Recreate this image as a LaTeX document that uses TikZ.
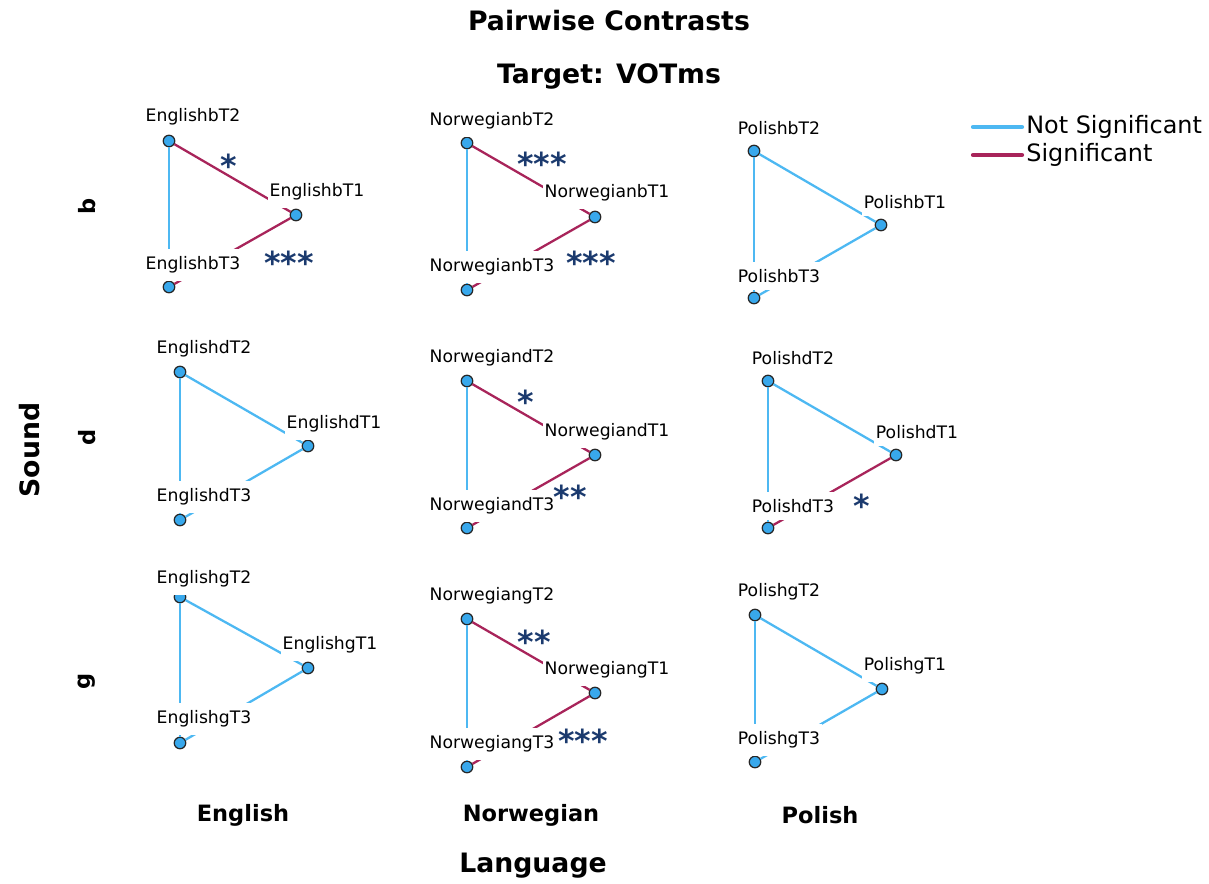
\documentclass[tikz,border=0pt]{standalone}
\usepackage{fontspec}
\setmainfont{DejaVu Sans}
\definecolor{nsblue}{HTML}{4DB8F2}
\definecolor{sigred}{HTML}{A8245A}
\definecolor{ptfill}{HTML}{38A8EC}
\definecolor{starnavy}{HTML}{1B3A6E}
\tikzset{
	pt/.style={circle,draw=black!85,fill=ptfill,line width=0.7pt,inner sep=0pt,minimum size=0.23cm},
	ptlabel/.style={fill=white,inner xsep=1pt,inner ysep=4.2pt,font=\fontsize{9.8}{11}\selectfont},
	ns/.style={draw=nsblue,line width=1.3pt},
	sig/.style={draw=sigred,line width=1.3pt},
	stars/.style={text=starnavy,inner sep=0pt,font=\bfseries\fontsize{18}{18}\selectfont},
	heading/.style={font=\bfseries\fontsize{15.2}{18}\selectfont},
	tick/.style={font=\bfseries\fontsize{12.8}{15}\selectfont}
}
\begin{document}
\begin{tikzpicture}[x=0.02cm,y=-0.02cm]
	\useasboundingbox (0,0) rectangle (1209,883);
	% titles
	\node[heading] (title) at (609,21) {Pairwise Contrasts};
	\node[heading] (target) at (609,76) {Target: VOTms};
	% legend
	\coordinate (lga) at (973,127);
	\coordinate (lgb) at (1022,127);
	\coordinate (lgc) at (973,155);
	\coordinate (lgd) at (1022,155);
	\draw[nsblue,line width=2.4pt,line cap=round] (lga) -- (lgb);
	\draw[sigred,line width=2.4pt,line cap=round] (lgc) -- (lgd);
	\node[anchor=west,inner sep=0pt,font=\fontsize{13.6}{16}\selectfont] (lgns) at (1026,127) {Not Significant};
	\node[anchor=west,inner sep=0pt,font=\fontsize{13.6}{16}\selectfont] (lgsig) at (1026,155) {Significant};

	% English b
	\node[pt] (Eb2) at (169,141) {};
	\node[pt] (Eb1) at (296,215) {};
	\node[pt] (Eb3) at (169,287) {};
	\path (Eb2) edge[ns] (Eb3) (Eb2) edge[sig] (Eb1) (Eb1) edge[sig] (Eb3);
	\node[ptlabel] at (193,117) {EnglishbT2};
	\node[ptlabel] at (317,192) {EnglishbT1};
	\node[ptlabel] at (193,265) {EnglishbT3};
	\node[stars] at (229,166) {*};
	\node[stars] at (289,263) {***};

	% Norwegian b
	\node[pt] (Nb2) at (467,143) {};
	\node[pt] (Nb1) at (595,217) {};
	\node[pt] (Nb3) at (467,290) {};
	\path (Nb2) edge[ns] (Nb3) (Nb2) edge[sig] (Nb1) (Nb1) edge[sig] (Nb3);
	\node[ptlabel] at (492,121) {NorwegianbT2};
	\node[ptlabel] at (607,193) {NorwegianbT1};
	\node[ptlabel] at (492,267) {NorwegianbT3};
	\node[stars] at (542,164) {***};
	\node[stars] at (591,263) {***};

	% Polish b
	\node[pt] (Pb2) at (754,151) {};
	\node[pt] (Pb1) at (881,225) {};
	\node[pt] (Pb3) at (754,298) {};
	\path (Pb2) edge[ns] (Pb3) (Pb2) edge[ns] (Pb1) (Pb1) edge[ns] (Pb3);
	\node[ptlabel] at (779,128) {PolishbT2};
	\node[ptlabel] at (905,202) {PolishbT1};
	\node[ptlabel] at (779,276) {PolishbT3};

	% English d
	\node[pt] (Ed2) at (180,372) {};
	\node[pt] (Ed1) at (308,446) {};
	\node[pt] (Ed3) at (180,520) {};
	\path (Ed2) edge[ns] (Ed3) (Ed2) edge[ns] (Ed1) (Ed1) edge[ns] (Ed3);
	\node[ptlabel] at (204,349) {EnglishdT2};
	\node[ptlabel] at (334,424) {EnglishdT1};
	\node[ptlabel] at (204,497) {EnglishdT3};

	% Norwegian d
	\node[pt] (Nd2) at (467,381) {};
	\node[pt] (Nd1) at (595,455) {};
	\node[pt] (Nd3) at (467,528) {};
	\path (Nd2) edge[ns] (Nd3) (Nd2) edge[sig] (Nd1) (Nd1) edge[sig] (Nd3);
	\node[ptlabel] at (492,358) {NorwegiandT2};
	\node[ptlabel] at (607,432) {NorwegiandT1};
	\node[ptlabel] at (492,506) {NorwegiandT3};
	\node[stars] at (526,402) {*};
	\node[stars] at (570,497) {**};

	% Polish d
	\node[pt] (Pd2) at (768,381) {};
	\node[pt] (Pd1) at (896,455) {};
	\node[pt] (Pd3) at (768,528) {};
	\path (Pd2) edge[ns] (Pd3) (Pd2) edge[ns] (Pd1) (Pd1) edge[sig] (Pd3);
	\node[ptlabel] at (793,358) {PolishdT2};
	\node[ptlabel] at (917,432) {PolishdT1};
	\node[ptlabel] at (793,506) {PolishdT3};
	\node[stars] at (862,506) {*};

	% English g
	\node[pt] (Eg2) at (180,597) {};
	\node[pt] (Eg1) at (308,668) {};
	\node[pt] (Eg3) at (180,743) {};
	\path (Eg2) edge[ns] (Eg3) (Eg2) edge[ns] (Eg1) (Eg1) edge[ns] (Eg3);
	\node[ptlabel] at (204,579) {EnglishgT2};
	\node[ptlabel] at (330,645) {EnglishgT1};
	\node[ptlabel] at (204,719) {EnglishgT3};

	% Norwegian g
	\node[pt] (Ng2) at (467,619) {};
	\node[pt] (Ng1) at (595,693) {};
	\node[pt] (Ng3) at (467,767) {};
	\path (Ng2) edge[ns] (Ng3) (Ng2) edge[sig] (Ng1) (Ng1) edge[sig] (Ng3);
	\node[ptlabel] at (492,596) {NorwegiangT2};
	\node[ptlabel] at (607,670) {NorwegiangT1};
	\node[ptlabel] at (492,744) {NorwegiangT3};
	\node[stars] at (534,642) {**};
	\node[stars] at (583,741) {***};

	% Polish g
	\node[pt] (Pg2) at (755,615) {};
	\node[pt] (Pg1) at (882,689) {};
	\node[pt] (Pg3) at (755,762) {};
	\path (Pg2) edge[ns] (Pg3) (Pg2) edge[ns] (Pg1) (Pg1) edge[ns] (Pg3);
	\node[ptlabel] at (779,592) {PolishgT2};
	\node[ptlabel] at (905,666) {PolishgT1};
	\node[ptlabel] at (779,740) {PolishgT3};

	% axes
	\node[tick] (colE) at (243,815) {English};
	\node[tick] (colN) at (531,815) {Norwegian};
	\node[tick] (colP) at (820,815) {Polish};
	\node[heading] (xlab) at (533,866) {Language};
	\node[tick,rotate=90] (rowb) at (87,206) {b};
	\node[tick,rotate=90] (rowd) at (87,437) {d};
	\node[tick,rotate=90] (rowg) at (87,681) {g};
	\node[heading,rotate=90] (ylab) at (30,450) {Sound};
\end{tikzpicture}
\end{document}
